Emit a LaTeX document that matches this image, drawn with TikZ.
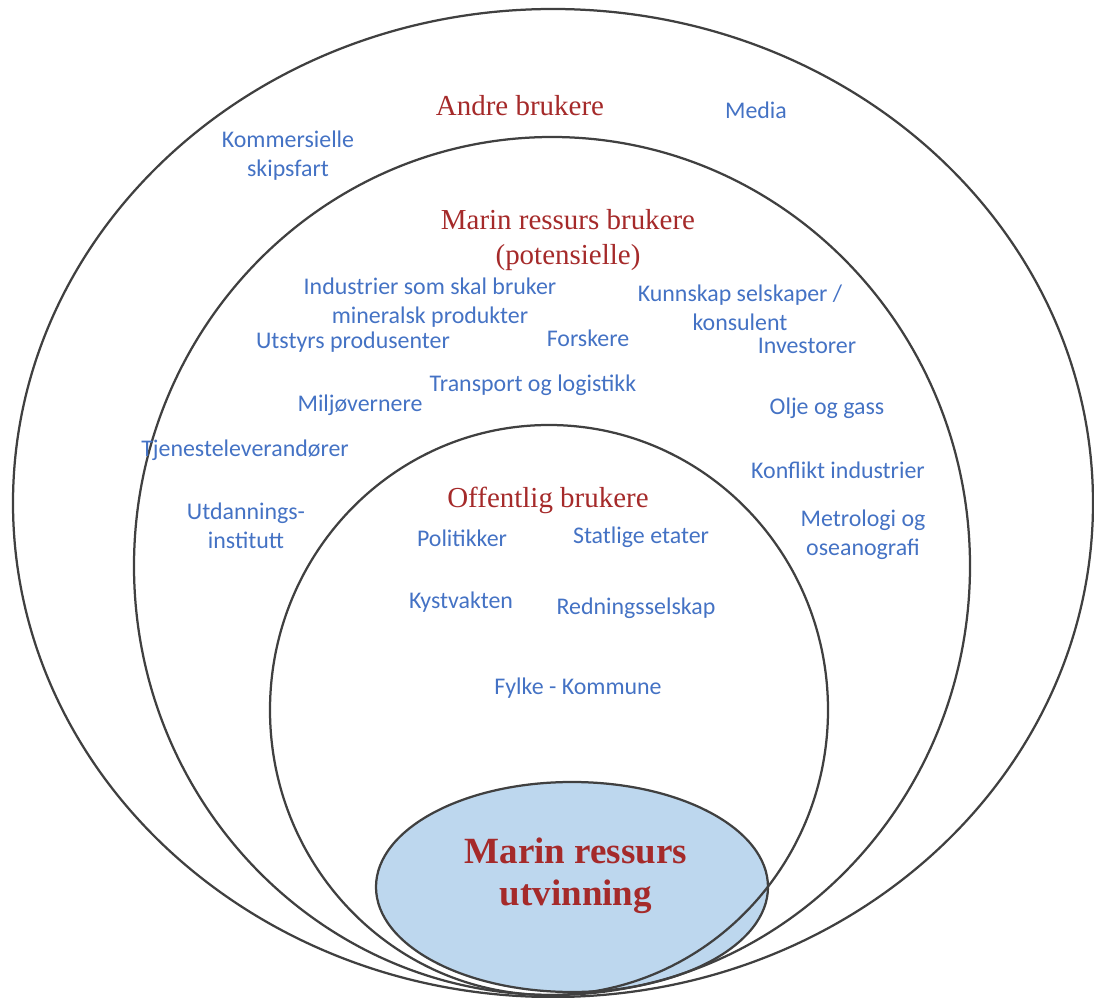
\documentclass[tikz,border=0pt]{standalone}
\usepackage{fontspec}
\setmainfont{Liberation Serif}
\newfontfamily\actorfont{Carlito}
\usetikzlibrary{positioning}
\definecolor{rim}{HTML}{404040}
\definecolor{core}{HTML}{BDD7EE}
\definecolor{rust}{HTML}{A52A2A}
\definecolor{cobalt}{HTML}{4472C4}

\begin{document}
\begin{tikzpicture}[
  x=0.025cm, y=0.025cm,
  ring/.style={draw=rim, line width=1.6pt},
  corering/.style={draw=rim, fill=core, line width=1.6pt},
  head/.style={text=rust, align=center, inner sep=0pt,
               font=\fontsize{20.6}{24.6}\selectfont},
  corehead/.style={text=rust, align=center, inner sep=0pt,
                   font=\bfseries\fontsize{26.3}{29.9}\selectfont},
  actor/.style={text=cobalt, align=center, inner sep=0pt,
                font=\actorfont\fontsize{17}{20.8}\selectfont},
]
\useasboundingbox (0,0) rectangle (1094,-998);

% rings, innermost first so the outlines cross over the fill
\draw[corering] (572,-887) ellipse [x radius=196, y radius=105];
\draw[ring] (549,-710) ellipse [x radius=279, y radius=285];
\draw[ring] (552,-566) ellipse [x radius=418, y radius=429];
\draw[ring] (553,-503) ellipse [x radius=540, y radius=494];

% ring titles
\node[head] (other) at (520,-106) {Andre brukere};
\node[head] (potential) at (568,-240) {Marin ressurs brukere\\(potensielle)};
\node[head] (public) at (548,-500) {Offentlig brukere};
\node[corehead] (extraction) at (576,-876) {Marin ressurs\\utvinning};

% outer ring
\node[actor] (shipping) at (288,-156) {Kommersielle\\skipsfart};
\node[actor] (media) at (756,-110) {Media};

% middle ring
\node[actor] (industry) at (430,-303) {Industrier som skal bruker\\mineralsk produkter};
\node[actor] (equipment) at (353,-342) {Utstyrs produsenter};
\node[actor] (research) at (588,-338) {Forskere};
\node[actor] (consult) at (740,-308) {Kunnskap selskaper /\\konsulent};
\node[actor] (investors) at (807,-346) {Investorer};
\node[actor] (transport) at (533,-385) {Transport og logistikk};
\node[actor] (environment) at (360,-405) {Miljøvernere};
\node[actor] (oilgas) at (827,-408) {Olje og gass};
\node[actor] (services) at (245,-450) {Tjenesteleverandører};
\node[actor] (conflict) at (838,-470) {Konflikt industrier};
\node[actor] (education) at (246,-526) {Utdannings-\\institutt};
\node[actor] (ocean) at (863,-535) {Metrologi og\\oseanografi};

% inner ring
\node[actor] (politics) at (462,-538) {Politikker};
\node[actor] (agencies) at (641,-537) {Statlige etater};
\node[actor] (coastguard) at (461,-602) {Kystvakten};
\node[actor] (rescue) at (636,-608) {Redningsselskap};
\node[actor] (county) at (578,-688) {Fylke - Kommune};
\end{tikzpicture}
\end{document}
